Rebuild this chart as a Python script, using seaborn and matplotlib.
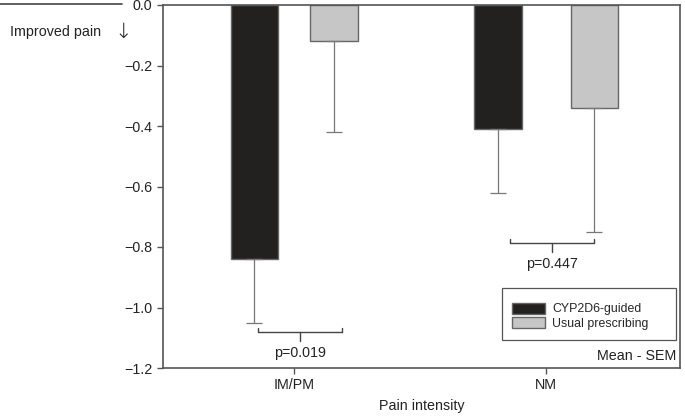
import pandas as pd
import matplotlib
matplotlib.use("Agg")
import matplotlib.pyplot as plt
from matplotlib.patches import Rectangle
import seaborn as sns

categories = ["IM/PM", "NM"]
groups = ["CYP2D6-guided", "Usual prescribing"]
means_guided = [-0.84, -0.41]
means_usual = [-0.12, -0.34]
sem_guided = [0.21, 0.21]
sem_usual = [0.30, 0.41]
p_labels = ["p=0.019", "p=0.447"]
bracket_y = [-1.08, -0.787]

sns.set_style("white")
plt.rcParams["font.family"] = ["Liberation Sans", "DejaVu Sans"]

df = pd.DataFrame({
    "cat": categories * 2,
    "group": [groups[0]] * 2 + [groups[1]] * 2,
    "val": means_guided + means_usual,
    "sem": sem_guided + sem_usual,
})

fig = plt.figure(figsize=(6.85, 4.16), dpi=100)
ax = fig.add_axes([163 / 685, 1 - 368 / 416, 517 / 685, 363 / 416])

sns.barplot(data=df, x="cat", y="val", hue="group", order=categories,
            hue_order=groups, palette=["#231f20", "#c6c6c6"], width=0.63,
            gap=0.4, edgecolor="#666666", linewidth=1, errorbar=None, ax=ax)

# the NM pair sits a bit further apart than the IM/PM pair
spread = [0.0, 0.033]
bars = ax.patches[:4]
for i, bar in enumerate(bars):
    r = df.iloc[i]
    sign = -1 if r["group"] == groups[0] else 1
    bar.set_x(bar.get_x() + sign * spread[categories.index(r["cat"])])
    xc = bar.get_x() + bar.get_width() / 2
    ax.errorbar(xc, r["val"], yerr=[[r["sem"]], [0]], fmt="none",
                ecolor="#777777", elinewidth=0.9, capsize=5.5, capthick=0.9)

# significance brackets
for i, (lbl, yb) in enumerate(zip(p_labels, bracket_y)):
    x0, x1 = i - 0.145, i + 0.19
    xm = (x0 + x1) / 2
    ax.plot([x0, x0, x1, x1], [yb + 0.012, yb, yb, yb + 0.012], color="#444444", lw=1)
    ax.plot([xm, xm], [yb, yb - 0.03], color="#444444", lw=1)
    ax.text(xm, yb - 0.07, lbl, ha="center", va="center", fontsize=10.3, color="#222222")

ax.set_xlim(-0.52, 1.53)
ax.set_ylim(-1.2, 0)
ax.set_yticks([0, -0.2, -0.4, -0.6, -0.8, -1.0, -1.2])
ax.set_yticklabels(["0.0", "\u22120.2", "\u22120.4", "\u22120.6", "\u22120.8", "\u22121.0", "\u22121.2"])
ax.set_xlabel("Pain intensity", fontsize=10.3, color="#222222", labelpad=5)
ax.set_ylabel("")
ax.tick_params(axis="both", direction="out", length=4, width=1, color="#555555",
               labelsize=10.3, labelcolor="#222222", left=True, bottom=True)
for s in ax.spines.values():
    s.set_color("#555555")
    s.set_linewidth(1.2)

# legend box drawn separately so its width matches
ax.add_patch(Rectangle((0.656, 0.077), 0.336, 0.143, transform=ax.transAxes,
                       fill=False, edgecolor="#555555", lw=0.9, zorder=5))
leg = ax.legend(loc="upper left", bbox_to_anchor=(0.645, 0.222), fontsize=8.9,
                frameon=False, handlelength=2.7, handleheight=0.95,
                handletextpad=0.55, borderpad=0.75, labelspacing=0.15)

ax.text(0.992, 0.015, "Mean - SEM", transform=ax.transAxes, ha="right", va="bottom",
        fontsize=10.3, color="#222222")

# left annotation
fig.add_artist(plt.Line2D([0, 122 / 685], [1 - 4 / 416, 1 - 4 / 416], color="#444444", lw=1.2))
fig.text(10 / 685, 1 - 32 / 416, "Improved pain", fontsize=10.3, color="#222222", va="center")
fig.text(123 / 685, 1 - 32 / 416, "\u2193", fontsize=15, color="#222222", va="center",
         ha="center", family="DejaVu Sans", fontweight="light")

fig.savefig("out.png", dpi=100)
